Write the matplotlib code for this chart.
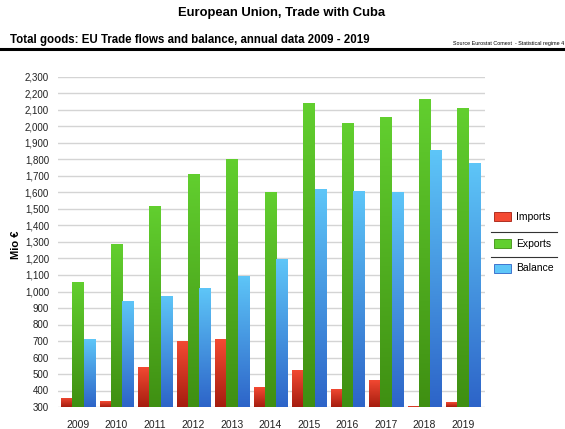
import numpy as np
import matplotlib.pyplot as plt
from matplotlib.colors import LinearSegmentedColormap
from matplotlib.patches import Rectangle
from matplotlib.lines import Line2D

plt.rcParams['font.family'] = ['Liberation Sans', 'DejaVu Sans']

years = [2009, 2010, 2011, 2012, 2013, 2014, 2015, 2016, 2017, 2018, 2019]
imports = [355, 335, 545, 700, 710, 420, 525, 410, 465, 305, 330]
exports = [1060, 1285, 1520, 1715, 1805, 1605, 2145, 2020, 2060, 2165, 2110]
balance = [710, 945, 975, 1020, 1095, 1195, 1620, 1610, 1605, 1860, 1780]

series = [
    ('Imports', imports, ('#a51d0f', '#f44a33')),
    ('Exports', exports, ('#3f8f12', '#62cf2f')),
    ('Balance', balance, ('#2d64c8', '#5ec6f8')),
]

YMIN, YMAX = 300, 2300

fig = plt.figure(figsize=(5.65, 4.29), dpi=100)
ax = fig.add_axes([58 / 565, 22 / 429, 427 / 565, 330 / 429])

x = np.arange(len(years))
width = 0.29
grad = np.linspace(0, 1, 256).reshape(-1, 1)

for k, (name, vals, (c_bot, c_top)) in enumerate(series):
    cmap = LinearSegmentedColormap.from_list(name, [c_bot, c_top])
    offs = (k - 1) * width
    for xi, v in zip(x, vals):
        x0 = xi + offs - width / 2
        im = ax.imshow(grad, cmap=cmap, aspect='auto', origin='lower',
                       extent=(x0, x0 + width, YMIN, v), zorder=3)
        clip = Rectangle((x0, YMIN), width, v - YMIN, transform=ax.transData)
        im.set_clip_path(clip)

ax.set_xlim(-0.52, len(years) - 1 + 0.57)
ax.set_ylim(YMIN, YMAX)
ax.set_yticks(range(YMIN, YMAX + 1, 100))
ax.set_yticklabels([f'{v:,}' for v in range(YMIN, YMAX + 1, 100)], fontsize=7, color='#222222')
ax.set_xticks(x)
ax.set_xticklabels([str(y) for y in years], fontsize=7.5, color='#222222')
ax.tick_params(length=0, pad=9)
ax.tick_params(axis='y', pad=6.5)
ax.grid(axis='y', color='#d4d4d4', linewidth=1, zorder=0)
ax.set_axisbelow(True)
for s in ax.spines.values():
    s.set_visible(False)

fig.text(16 / 565, 1 - 245 / 429, 'Mio €', rotation=90, ha='center', va='center',
         fontsize=8, fontweight='bold')

# header
fig.text(282 / 565, 1 - 13 / 429, 'European Union, Trade with Cuba', ha='center', va='center',
         fontsize=9.4, fontweight='bold')
fig.text(10 / 565, 1 - 40 / 429, 'Total goods: EU Trade flows and balance, annual data 2009 - 2019',
         ha='left', va='center', fontsize=8.3, fontweight='bold')
fig.text(564 / 565, 1 - 43 / 429, 'Source Eurostat Comext  - Statistical regime 4',
         ha='right', va='center', fontsize=3.9)
fig.add_artist(Line2D([0, 1], [1 - 49 / 429] * 2, color='black', linewidth=2.2))

# legend
leg_y = [217, 244, 268]
for (name, vals, (c_bot, c_top)), yy in zip(series, leg_y):
    yf = 1 - yy / 429
    fig.patches.append(Rectangle((494 / 565, yf - 4.5 / 429), 17 / 565, 9 / 429,
                                 transform=fig.transFigure, facecolor=c_top,
                                 edgecolor=c_bot, linewidth=0.6))
    fig.text(516 / 565, yf, name, ha='left', va='center', fontsize=7.5)
for yy in [232, 257]:
    fig.add_artist(Line2D([491 / 565, 557 / 565], [1 - yy / 429] * 2, color='#333333', linewidth=0.8))

fig.savefig('out.png', dpi=100)
